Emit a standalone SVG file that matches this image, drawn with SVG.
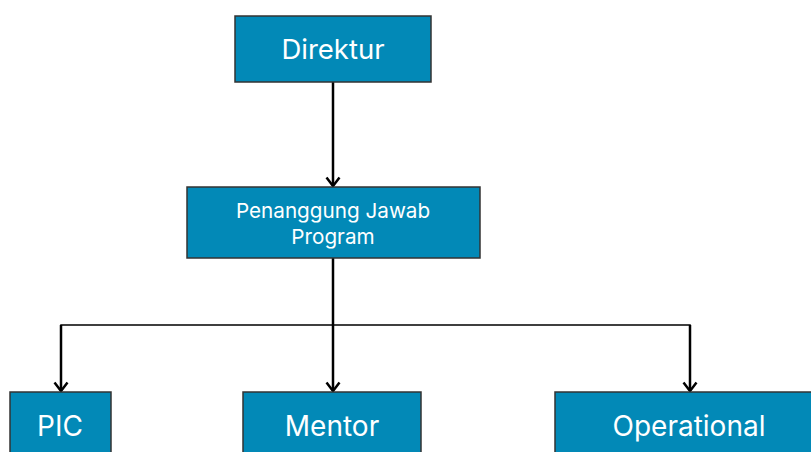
<svg xmlns="http://www.w3.org/2000/svg" width="811" height="452" viewBox="0 0 811 452">
<style>
.box{fill:#0289b7;stroke:#333;stroke-width:1.5}
.t{fill:#fff;font-family:Inter,"Noto Sans",sans-serif;text-anchor:middle}
.c{fill:none;stroke:#000;stroke-width:2.5}
.h{fill:none;stroke:#000;stroke-width:1.5}
</style>
<defs>
<marker id="a" viewBox="0 0 12 16" refX="10" refY="8" markerWidth="12" markerHeight="16" markerUnits="userSpaceOnUse" orient="auto">
<path d="M1.5,1.5 L10,8 L1.5,14.5" fill="none" stroke="#000" stroke-width="2.5"/>
</marker>
</defs>
<rect width="811" height="452" fill="#fff"/>
<g id="connectors">
<line class="c" x1="333" y1="82" x2="333" y2="186" marker-end="url(#a)"/>
<line class="c" x1="333" y1="258" x2="333" y2="391" marker-end="url(#a)"/>
<polyline class="h" points="61,332 61,325 690,325 690,332"/>
<line class="c" x1="61" y1="325" x2="61" y2="391" marker-end="url(#a)"/>
<line class="c" x1="690" y1="325" x2="690" y2="391" marker-end="url(#a)"/>
</g>
<g id="direktur">
<rect class="box" x="235" y="16" width="196" height="66"/>
<text class="t" x="333" y="59" font-size="27.5">Direktur</text>
</g>
<g id="pjp">
<rect class="box" x="187" y="187" width="293" height="71"/>
<text class="t" x="333" y="218" font-size="20.7">Penanggung Jawab</text>
<text class="t" x="333" y="244" font-size="20.7">Program</text>
</g>
<g id="pic">
<rect class="box" x="10" y="392" width="101" height="70"/>
<text class="t" x="60" y="436" font-size="28">PIC</text>
</g>
<g id="mentor">
<rect class="box" x="243" y="392" width="178" height="70"/>
<text class="t" x="332" y="436" font-size="28">Mentor</text>
</g>
<g id="operational">
<rect class="box" x="555" y="392" width="270" height="70"/>
<text class="t" x="689" y="436" font-size="28">Operational</text>
</g>
</svg>
